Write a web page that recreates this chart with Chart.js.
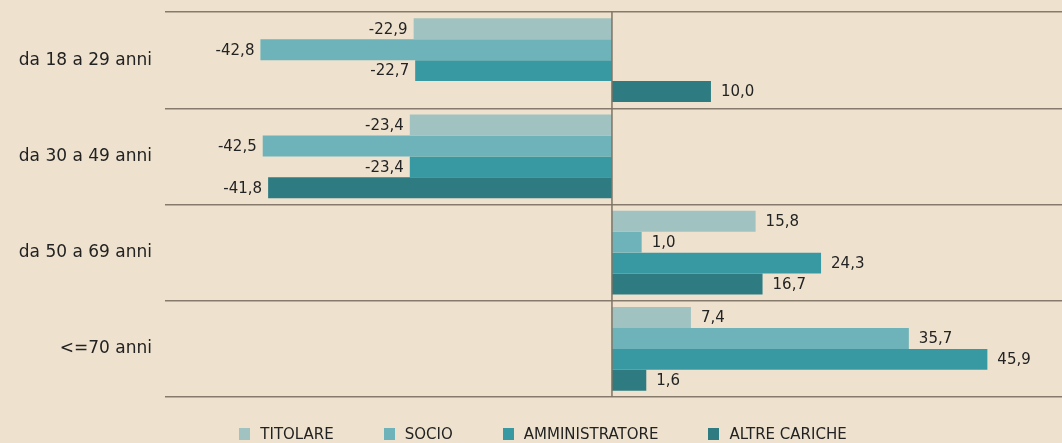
<!DOCTYPE html>
<html>
<head>
<meta charset="utf-8">
<script src="https://cdn.jsdelivr.net/npm/chart.js@4/dist/chart.umd.min.js"></script>
<style>
    html, body { margin: 0; padding: 0; background: #eee2cf; }
    #wrap { position: relative; width: 1062px; height: 443px; overflow: hidden; }
    #legenda {
        position: absolute; left: 0; top: 425px; width: 1062px; padding-left: 24px; box-sizing: border-box;
        display: flex; justify-content: center; gap: 50px;
        font-family: "DejaVu Sans", sans-serif; font-size: 15px; color: #222;
    }
    #legenda span.voce { display: inline-flex; align-items: center; }
    #legenda i { display: inline-block; width: 11px; height: 12px; margin-right: 10px; }
</style>
</head>
<body>
<div id="wrap">
    <canvas id="chart-1" width="1062" height="443"></canvas>
    <div id="legenda"></div>
</div>
<script>
// fasce di eta e variazioni per carica
var fasce = ["da 18 a 29 anni", "da 30 a 49 anni", "da 50 a 69 anni", "<=70 anni"];
var serie = ["TITOLARE", "SOCIO", "AMMINISTRATORE", "ALTRE CARICHE"];
var titolare = [-22.9, -23.4, 15.8, 7.4];
var socio = [-42.8, -42.5, 1.0, 35.7];
var amministratore = [-22.7, -23.4, 24.3, 45.9];
var altreCariche = [10.0, -41.8, 16.7, 1.6];

var colori = ["#a0c3c1", "#6db3b9", "#3899a3", "#2e7c82"];
var FONT = '"DejaVu Sans", sans-serif';

// le barre nell'originale partono staccate di qualche pixel dallo zero
var STACCO = 22;
class ScalaStaccata extends Chart.LinearScale {
    getPixelForValue(value) {
        var zero = super.getPixelForValue(0);
        if (!value) return zero;
        return super.getPixelForValue(value) + (value > 0 ? STACCO : -STACCO);
    }
}
ScalaStaccata.id = 'staccata';
ScalaStaccata.defaults = Chart.LinearScale.defaults;
Chart.register(ScalaStaccata);

function formatta(v) {
    return v.toFixed(1).replace('.', ',');
}

var etichette = {
    id: 'etichette',
    afterDatasetsDraw: function (chart) {
        var ctx = chart.ctx;
        var xs = chart.scales.x;
        var area = chart.chartArea;
        ctx.save();
        // linea dello zero
        var x0 = xs.getPixelForValue(0);
        ctx.strokeStyle = '#7e7364';
        ctx.lineWidth = 1.5;
        ctx.beginPath();
        ctx.moveTo(x0, area.top);
        ctx.lineTo(x0, area.bottom);
        ctx.stroke();

        ctx.font = '15px ' + FONT;
        ctx.fillStyle = '#232323';
        ctx.textBaseline = 'middle';
        chart.data.datasets.forEach(function (ds, i) {
            var meta = chart.getDatasetMeta(i);
            meta.data.forEach(function (bar, j) {
                var v = ds.data[j];
                if (v < 0) {
                    ctx.textAlign = 'right';
                    ctx.fillText(formatta(v), bar.x - 6, bar.y + 1);
                } else {
                    ctx.textAlign = 'left';
                    ctx.fillText(formatta(v), bar.x + 10, bar.y + 1);
                }
            });
        });
        ctx.restore();
    }
};

var ctx = document.getElementById("chart-1").getContext("2d");
var grafico = new Chart(ctx, {
    type: "bar",
    data: {
        labels: fasce,
        datasets: [
            { label: serie[0], data: titolare, backgroundColor: colori[0] },
            { label: serie[1], data: socio, backgroundColor: colori[1] },
            { label: serie[2], data: amministratore, backgroundColor: colori[2] },
            { label: serie[3], data: altreCariche, backgroundColor: colori[3] }
        ]
    },
    options: {
        indexAxis: 'y',
        responsive: false,
        animation: false,
        layout: { padding: { top: 12, right: 0, left: 0, bottom: 0 } },
        datasets: { bar: { categoryPercentage: 0.87, barPercentage: 1.0 } },
        scales: {
            x: {
                type: 'staccata',
                min: -58.05,
                max: 58.45,
                ticks: { display: false },
                grid: { display: false },
                border: { display: false },
                afterFit: function (scale) {
                    scale.height = 46;
                    scale.paddingLeft = 0;
                    scale.paddingRight = 0;
                }
            },
            y: {
                grid: { color: '#857a6b', lineWidth: 1.5, drawTicks: false, offset: true },
                border: { display: false },
                ticks: { padding: 13, color: '#222', font: { family: FONT, size: 17 } },
                afterFit: function (scale) {
                    scale.width = 165;
                    scale.paddingTop = 0;
                    scale.paddingBottom = 0;
                }
            }
        },
        plugins: {
            legend: { display: false },
            tooltip: { enabled: false }
        }
    },
    plugins: [etichette]
});

// legenda in html presa dai dataset
var legenda = document.getElementById('legenda');
grafico.data.datasets.forEach(function (ds) {
    var voce = document.createElement('span');
    voce.className = 'voce';
    var box = document.createElement('i');
    box.style.background = ds.backgroundColor;
    voce.appendChild(box);
    voce.appendChild(document.createTextNode(ds.label));
    legenda.appendChild(voce);
});
</script>
</body>
</html>
